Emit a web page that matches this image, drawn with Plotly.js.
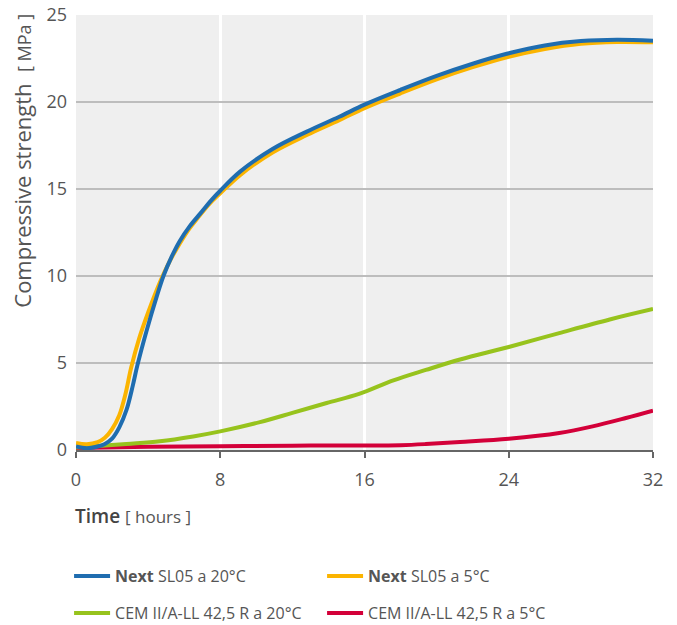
<!DOCTYPE html>
<html>
<head>
<meta charset="utf-8">
<script src="https://cdn.plot.ly/plotly-3.0.1.min.js"></script>
<style>html,body{margin:0;padding:0;background:#fff;}</style>
</head>
<body>
<div id="chart" style="width:677px;height:625px;"></div>
<script>
// Data (hours, MPa)
const nextWarmX = [0, 0.6, 1.2, 1.6, 2.0, 2.4, 2.8, 3.15, 3.4, 3.9, 4.5, 4.85, 5.3, 5.75, 6.3, 6.9, 7.5, 8, 9.1, 10.9, 12.8, 14.6, 16, 18, 20, 22, 24, 26, 28, 30, 32];
const nextWarmY = [0.2, 0.1, 0.2, 0.35, 0.65, 1.3, 2.3, 3.7, 4.85, 6.8, 8.9, 10.0, 11.1, 12.0, 12.85, 13.6, 14.35, 14.9, 16.0, 17.3, 18.3, 19.15, 19.85, 20.7, 21.5, 22.2, 22.8, 23.25, 23.5, 23.58, 23.52];

const nextColdX = [0, 0.6, 1.2, 1.6, 2.0, 2.4, 2.75, 3.05, 3.5, 4.0, 4.7, 5.2, 5.6, 6.2, 6.8, 7.4, 8, 9.1, 10.9, 12.8, 14.6, 16, 18, 20, 22, 24, 26, 28, 30, 32];
const nextColdY = [0.4, 0.33, 0.45, 0.7, 1.2, 2.0, 3.25, 4.7, 6.4, 7.9, 9.75, 10.85, 11.6, 12.6, 13.4, 14.15, 14.75, 15.8, 17.1, 18.1, 18.95, 19.65, 20.5, 21.3, 22.0, 22.6, 23.05, 23.35, 23.45, 23.43];

const cemWarmX = [0, 2.8, 4.65, 6.5, 8, 10.2, 12, 13.9, 15.7, 17.6, 19.4, 21.3, 24, 26.8, 29.6, 32];
const cemWarmY = [0.15, 0.35, 0.5, 0.78, 1.07, 1.6, 2.13, 2.7, 3.22, 4.0, 4.6, 5.2, 5.92, 6.72, 7.5, 8.1];

const cemColdX = [0, 4, 8, 12, 15.7, 18, 19.4, 21.3, 24, 26.8, 28.65, 30.5, 32];
const cemColdY = [0.12, 0.18, 0.22, 0.25, 0.26, 0.28, 0.34, 0.46, 0.65, 0.98, 1.36, 1.84, 2.26];

const xTicks = [0, 8, 16, 24, 32];
const yTicks = [0, 5, 10, 15, 20, 25];

const names = [
  '<b>Next</b> SL05 a 20°C',
  '<b>Next</b> SL05 a 5°C',
  'CEM II/A-LL 42,5 R a 20°C',
  'CEM II/A-LL 42,5 R a 5°C'
];
const colors = ['#1f6db0', '#fbb400', '#97c31d', '#d30039'];

const FONT = '"Open Sans", "Noto Sans", sans-serif';

function tr(x, y, i, legend, rank) {
  return {
    x: x, y: y, type: 'scatter', mode: 'lines', name: names[i],
    line: {color: colors[i], width: 4, shape: 'spline', smoothing: 1},
    legend: legend, legendrank: rank, hoverinfo: 'skip'
  };
}

const data = [
  tr(cemColdX, cemColdY, 3, 'legend2', 2),
  tr(cemWarmX, cemWarmY, 2, 'legend2', 1),
  tr(nextColdX, nextColdY, 1, 'legend', 2),
  tr(nextWarmX, nextWarmY, 0, 'legend', 1)
];

const legendBase = {
  orientation: 'h', xanchor: 'left', yanchor: 'middle',
  entrywidth: 202, entrywidthmode: 'pixels',
  bgcolor: 'rgba(0,0,0,0)', borderwidth: 0,
  font: {family: FONT, size: 16, color: '#555'},
  itemwidth: 36, traceorder: 'normal'
};

const layout = {
  width: 677, height: 625,
  margin: {l: 76, r: 24, t: 15, b: 175, autoexpand: false},
  paper_bgcolor: '#ffffff',
  plot_bgcolor: '#efefef',
  font: {family: FONT, color: '#555'},
  showlegend: true,
  xaxis: {
    range: [0, 32], tickvals: xTicks, ticktext: xTicks.map(String),
    showgrid: true, gridcolor: '#ffffff', gridwidth: 3,
    zeroline: false, showline: true, linecolor: '#666', linewidth: 2,
    ticks: 'outside', ticklen: 6, tickwidth: 2, tickcolor: '#666',
    ticklabelstandoff: 6,
    tickfont: {family: FONT, size: 18, color: '#555'},
    fixedrange: true
  },
  yaxis: {
    range: [0, 25], tickvals: yTicks, ticktext: yTicks.map(String),
    showgrid: true, gridcolor: '#bdbdbd', gridwidth: 1.5,
    zeroline: false, showline: false, ticks: '',
    ticklabelstandoff: 8,
    tickfont: {family: FONT, size: 18, color: '#555'},
    fixedrange: true
  },
  legend: Object.assign({}, legendBase, {x: -0.012, y: -0.29}),
  legend2: Object.assign({}, legendBase, {x: -0.012, y: -0.375}),
  annotations: [
    {
      xref: 'paper', yref: 'paper', x: -0.0936, y: 0.665,
      xanchor: 'center', yanchor: 'middle', textangle: -90, showarrow: false,
      text: 'Compressive strength\u00a0\u00a0<span style="font-size:18px">[ MPa ]</span>',
      font: {family: FONT, size: 22, color: '#555'}
    },
    {
      xref: 'paper', yref: 'paper', x: -0.006, y: -0.152,
      xanchor: 'left', yanchor: 'middle', showarrow: false,
      text: '<span style="font-weight:600;color:#444">Time</span> <span style="font-size:17px">[ hours ]</span>',
      font: {family: FONT, size: 19, color: '#555'}
    }
  ]
};

Plotly.newPlot('chart', data, layout, {displayModeBar: false, staticPlot: true});
</script>
</body>
</html>
